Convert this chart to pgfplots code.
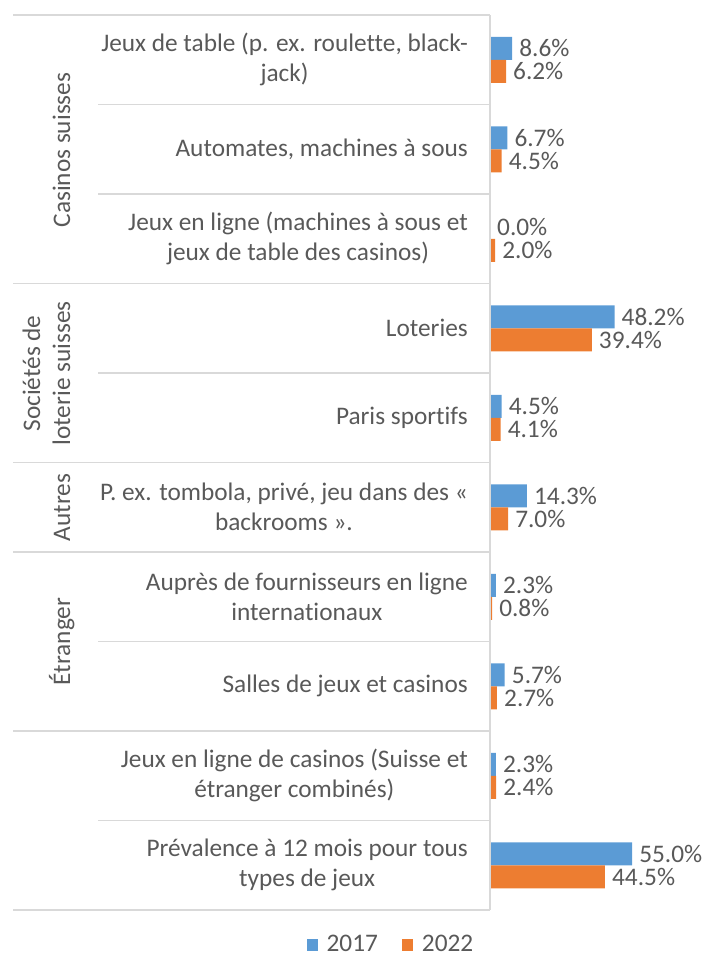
\documentclass[border=0pt]{standalone}
\usepackage{pgfplots}
\pgfplotsset{compat=1.18}
\usepackage{fontspec}
\setmainfont{Carlito}[Ligatures={NoCommon}]
\definecolor{cblue}{HTML}{5B9BD5}
\definecolor{corange}{HTML}{ED7D31}
\definecolor{ctext}{HTML}{595959}
\definecolor{cgrid}{HTML}{D9D9D9}
\newcommand{\cfont}{\fontsize{25.3bp}{30bp}\selectfont}
\begin{document}
\cfont
\begin{tikzpicture}[font=\cfont, text=ctext]
\useasboundingbox (0bp,0bp) rectangle (704bp,-956bp);
\begin{axis}[
  at={(490bp,-15bp)}, anchor=north west,
  scale only axis, width=155bp, height=895bp,
  xbar, bar width=23bp,
  xmin=0, xmax=60, ymin=-0.5, ymax=9.5, y dir=reverse,
  axis line style={draw=none}, xtick=\empty, ytick={0,...,9},
  major tick length=0pt, tick style={draw=none},
  yticklabels={
    {Jeux de table (p. ex. roulette, black-\\jack)},
    {Automates, machines à sous},
    {Jeux en ligne (machines à sous et\\jeux de table des casinos)},
    {Loteries},
    {Paris sportifs},
    {P. ex. tombola, privé, jeu dans des «\\backrooms ».},
    {Auprès de fournisseurs en ligne\\internationaux},
    {Salles de jeux et casinos},
    {Jeux en ligne de casinos (Suisse et\\étranger combinés)},
    {Prévalence à 12 mois pour tous\\types de jeux}},
  yticklabel style={align=center, anchor=east, inner sep=0pt, xshift=-22bp, text=ctext, font=\cfont},
  clip=false,
  point meta=x,
  nodes near coords={\pgfmathprintnumber[fixed,fixed zerofill,precision=1]{\pgfplotspointmeta}\%},
  /pgf/number format/assume math mode=true,
  every node near coord/.append style={anchor=west, inner sep=0pt, xshift=7bp, text=ctext, font=\cfont},
  legend style={at={(-0.639,-0.039)}, anchor=center, draw=none, fill=none, legend columns=2,
    /tikz/every odd column/.append style={column sep=7bp},
    /tikz/every even column/.append style={column sep=22bp}, font=\cfont, text=ctext, inner sep=0pt},
  legend image code/.code={\fill[#1] (0bp,-6bp) rectangle (11bp,6bp);},
  legend cell align=left,
]
\addplot[fill=cblue, draw=none, bar shift=11.5bp] coordinates {
  (8.6,0) (6.7,1) (0.0,2) (48.2,3) (4.5,4) (14.3,5) (2.3,6) (5.7,7) (2.3,8) (55.0,9)};
\addplot[fill=corange, draw=none, bar shift=-11.5bp] coordinates {
  (6.2,0) (4.5,1) (2.0,2) (39.4,3) (4.1,4) (7.0,5) (0.8,6) (2.7,7) (2.4,8) (44.5,9)};
\legend{2017,2022}
\end{axis}
\begin{scope}[x=1bp, y=-1bp]
  \draw[cgrid, line width=1.3bp] (490,15) -- (490,910);
  \foreach \k in {0,3,5,6,8,10} \draw[cgrid, line width=1.3bp] (13,{15+89.5*\k}) -- (490,{15+89.5*\k});
  \foreach \k in {1,2,4,7,9} \draw[cgrid, line width=1.3bp] (98,{15+89.5*\k}) -- (490,{15+89.5*\k});
  \node[rotate=90, anchor=base, inner sep=0pt] at (70,150) {Casinos suisses};
  \node[rotate=90, anchor=base, inner sep=0pt] at (40,373.5) {Sociétés de};
  \node[rotate=90, anchor=base, inner sep=0pt] at (70,373.5) {loterie suisses};
  \node[rotate=90, anchor=base, inner sep=0pt] at (70,507.5) {Autres};
  \node[rotate=90, anchor=base, inner sep=0pt] at (70,641.5) {Étranger};
\end{scope}
\end{tikzpicture}
\end{document}
